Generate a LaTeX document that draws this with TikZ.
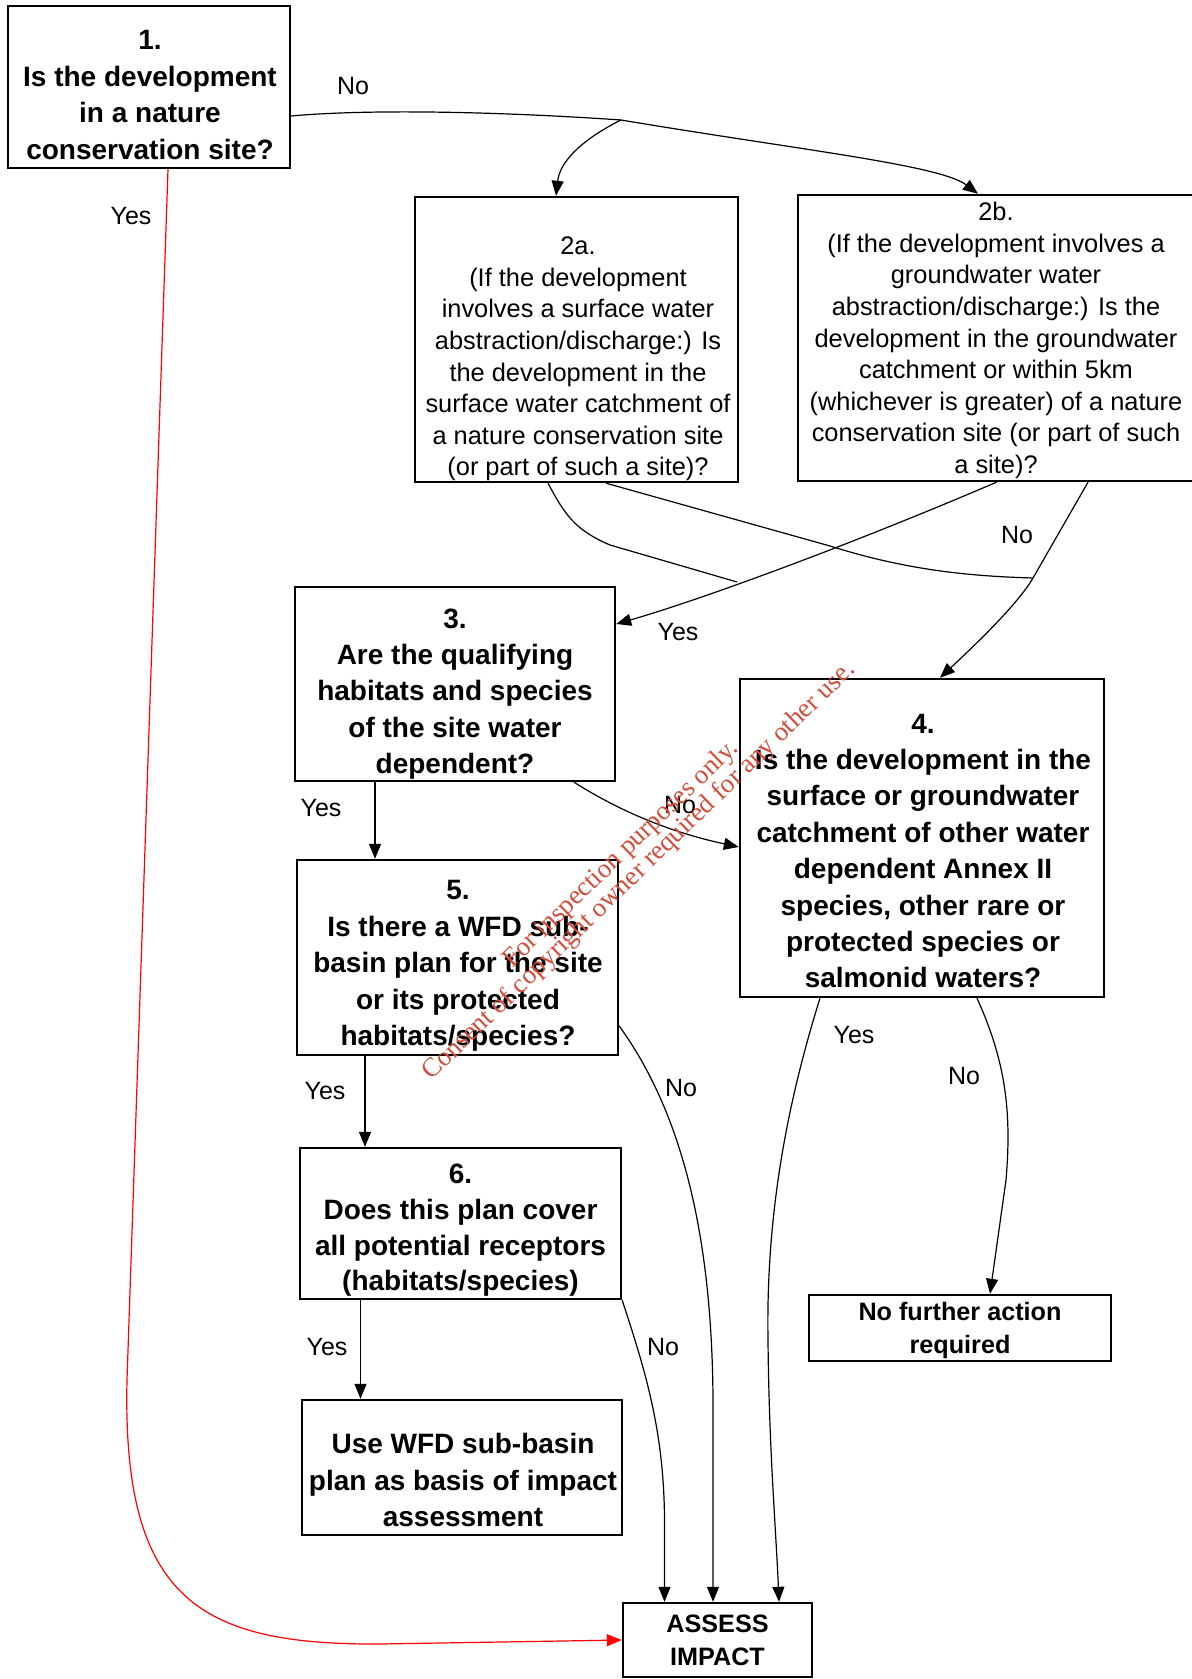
\documentclass[tikz,border=0pt]{standalone}
\usepackage{fontspec}
\setmainfont{Liberation Sans}
\newfontfamily\wmfont{Liberation Serif}
\usetikzlibrary{arrows.meta}
\definecolor{wmred}{RGB}{208,78,58}
\begin{document}
\begin{tikzpicture}[x=0.5pt,y=-0.5pt,
  box/.style={draw, line width=1.2pt, inner sep=0pt},
  qtext/.style={align=center, inner sep=0pt, font=\fontsize{14}{18.2}\selectfont\bfseries},
  q6text/.style={align=center, inner sep=0pt, font=\fontsize{14}{17.85}\selectfont\bfseries},
  smallq/.style={align=center, inner sep=0pt, font=\fontsize{12.6}{16.6}\selectfont\bfseries},
  stext/.style={align=center, inner sep=0pt, font=\fontsize{12.7}{15.8}\selectfont},
  lbl/.style={inner sep=0pt, font=\fontsize{12.5}{15}\selectfont},
  conn/.style={draw, line width=0.6pt},
  redconn/.style={draw=red, line width=0.6pt, -{Triangle[length=7.5pt,width=6pt]}},
  arr/.style={-{Triangle[length=7.5pt,width=6pt]}},
  wm/.style={text=wmred, inner sep=0pt, font=\wmfont\fontsize{13.4}{16}\selectfont}]

\fill[white] (0,0) rectangle (1192,1679);
\useasboundingbox (0,0) rectangle (1192,1679);
\clip (0,0) rectangle (1192,1679);

% boxes
\node[box, minimum width=141pt, minimum height=81pt] (b1) at (149,87) {};
\node[box, minimum width=161.5pt, minimum height=142.5pt] (b2a) at (576.5,339.5) {};
\node[box, minimum width=198.5pt, minimum height=143pt] (b2b) at (996.5,338) {};
\node[box, minimum width=160pt, minimum height=97pt] (b3) at (455,684) {};
\node[box, minimum width=182pt, minimum height=159pt] (b4) at (922,838) {};
\node[box, minimum width=160.5pt, minimum height=97.5pt] (b5) at (457.5,957.5) {};
\node[box, minimum width=160.5pt, minimum height=75.5pt] (b6) at (460.5,1223.5) {};
\node[box, minimum width=160pt, minimum height=67.5pt] (b7) at (462,1467.5) {};
\node[box, minimum width=151pt, minimum height=33pt] (b8) at (960,1328) {};
\node[box, minimum width=94.5pt, minimum height=37pt] (b9) at (717.5,1640) {};

% texts
\node[qtext] (t1) at (150,95) {1.\\Is the development\\in a nature\\conservation site?};
\node[stext] (t2a) at (578,359) {2a.\\(If the development\\involves a surface water\\abstraction/discharge:) Is\\the development in the\\surface water catchment of\\a nature conservation site\\(or part of such a site)?};
\node[stext] (t2b) at (996,340.5) {2b.\\(If the development involves a\\groundwater water\\abstraction/discharge:) Is the\\development in the groundwater\\catchment or within 5km\\(whichever is greater) of a nature\\conservation site (or part of such\\a site)?};
\node[qtext] (t3) at (455,694) {3.\\Are the qualifying\\habitats and species\\of the site water\\dependent?};
\node[qtext] (t4) at (923,851) {4.\\Is the development in the\\surface or groundwater\\catchment of other water\\dependent Annex II\\species, other rare or\\protected species or\\salmonid waters?};
\node[qtext] (t5) at (458,966) {5.\\Is there a WFD sub-\\basin plan for the site\\or its protected\\habitats/species?};
\node[q6text] (t6) at (460.5,1230.5) {6.\\Does this plan cover\\all potential receptors\\(habitats/species)};
\node[qtext] (t7) at (463,1480) {Use WFD sub-basin\\plan as basis of impact\\assessment};
\node[smallq] (t8) at (960,1330.5) {No further action\\required};
\node[smallq] (t9) at (717.5,1640) {ASSESS\\IMPACT};

% junctions
\coordinate (j1) at (621,120);
\coordinate (j2) at (1033,578);
\coordinate (e2a) at (737,582);

% connectors
\draw[conn] ([yshift=-14.5pt]b1.east) .. controls (380,108) and (520,113) .. (j1);
\draw[conn,arr] (j1) .. controls (800,150) and (940,165) .. ([xshift=-9.25pt]b2b.north);
\draw[conn,arr] (j1) .. controls (585,138) and (560,160) .. ([xshift=-10.25pt]b2a.north);
\draw[redconn] ([xshift=9.5pt]b1.south) -- (127,1380) .. controls (122,1600) and (200,1645) .. (380,1644) -- (b9.west);

\draw[conn] ([xshift=-14.25pt]b2a.south) .. controls (565,515) and (575,530) .. (610,545) -- (e2a);
\draw[conn] ([xshift=14.75pt]b2a.south) -- (830,546) .. controls (900,568) and (960,576) .. (j2);
\draw[conn,arr] (b2b.south) .. controls (850,545) and (700,600) .. ([yshift=30pt]b3.east);
\draw[conn,arr] ([xshift=45.75pt]b2b.south) -- (j2) .. controls (1018,604) and (975,645) .. ([xshift=9pt]b4.north);

\draw[conn,arr] ([xshift=-40pt]b3.south) -- ([xshift=-40pt]b3.south |- b5.north);
\draw[conn,arr] ([xshift=59.5pt]b3.south) .. controls (610,805) and (660,830) .. ([yshift=-4.5pt]b4.west);
\draw[conn,arr] ([xshift=-46.25pt]b5.south) -- ([xshift=-46.25pt]b5.south |- b6.north);
\draw[conn,arr] ([xshift=-50pt]b6.south) -- ([xshift=-50pt]b6.south |- b7.north);
\draw[conn,arr] ([yshift=-34.25pt]b5.east) .. controls (680,1110) and (712,1230) .. (713,1400) -- ([xshift=-2.25pt]b9.north);
\draw[conn,arr] (b6.south east) .. controls (645,1370) and (664,1430) .. (664.5,1520) -- ([xshift=-26.5pt]b9.north);
\draw[conn,arr] ([xshift=-51pt]b4.south) .. controls (785,1110) and (766,1220) .. (768,1340) .. controls (769,1450) and (776,1530) .. ([xshift=30.75pt]b9.north);
\draw[conn,arr] ([xshift=27.5pt]b4.south) .. controls (1005,1060) and (1012,1110) .. (1006,1180) -- ([xshift=15pt]b8.north);

% labels
\node[lbl] (lno1) at (353,86) {No};
\node[lbl] (lyes1) at (131,216) {Yes};
\node[lbl] (lno2b) at (1017,535) {No};
\node[lbl] (lyes2) at (678,632) {Yes};
\node[lbl] (lyes3) at (321,808) {Yes};
\node[lbl] (lno3) at (680,805) {No};
\node[lbl] (lyes5) at (325,1091) {Yes};
\node[lbl] (lno5) at (681,1088) {No};
\node[lbl] (lyes6) at (327,1347) {Yes};
\node[lbl] (lno6) at (663,1347) {No};
\node[lbl] (lyes4) at (854,1035) {Yes};
\node[lbl] (lno4) at (964,1076) {No};

% watermark
\node[wm, anchor=base, rotate=44] (wm1) at (626,859) {For inspection purposes only.};
\node[wm, anchor=base, rotate=44] (wm2) at (644,876) {Consent of copyright owner required for any other use.};
\end{tikzpicture}
\end{document}
